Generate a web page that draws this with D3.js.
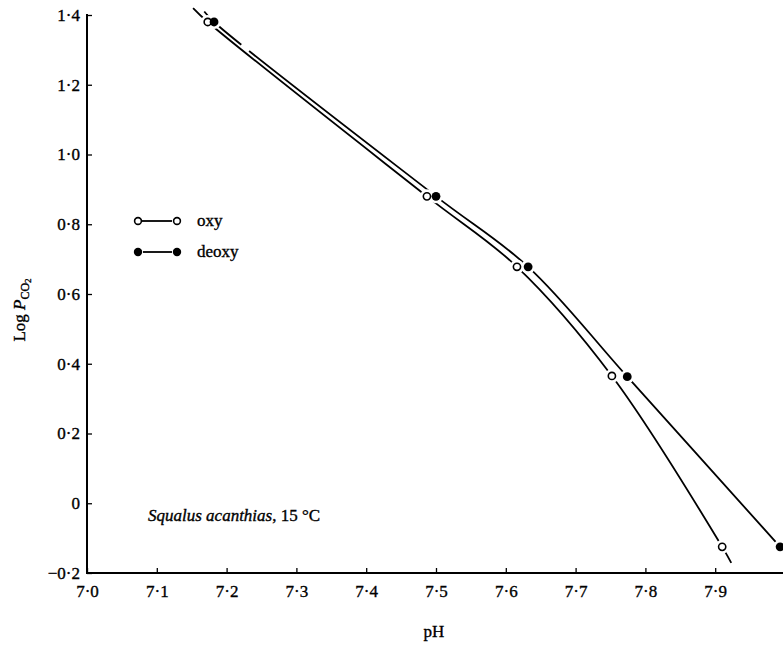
<!DOCTYPE html>
<html>
<head>
<meta charset="utf-8">
<script src="https://cdn.jsdelivr.net/npm/d3@7/dist/d3.min.js"></script>
<style>
  html, body { margin: 0; padding: 0; background: #fff; }
  svg { display: block; font-family: "Liberation Serif", "DejaVu Serif", serif; }
  text { fill: #000; stroke: #000; stroke-width: 0.35px; }
</style>
</head>
<body>
<svg id="chart" width="783" height="645"></svg>
<script>
// ---- data ----
const pHOxy     = [7.173, 7.487, 7.616, 7.752, 7.910];
const logPOxy   = [1.380, 0.880, 0.678, 0.365, -0.125];
const pHDeoxy   = [7.182, 7.500, 7.632, 7.774, 7.993];
const logPDeoxy = [1.380, 0.880, 0.678, 0.363, -0.125];
// drawn curve ends beyond the measured points
const oxyCurveStart   = [7.152, 1.420];
const oxyCurveEnd     = [7.923, -0.171];
const deoxyCurveStart = [7.168, 1.410];

const xTicks = [7.0, 7.1, 7.2, 7.3, 7.4, 7.5, 7.6, 7.7, 7.8, 7.9];
const xTickLabels = ["7·0","7·1","7·2","7·3","7·4","7·5","7·6","7·7","7·8","7·9"];
const yTicks = [1.4, 1.2, 1.0, 0.8, 0.6, 0.4, 0.2, 0, -0.2];
const yTickLabels = ["1·4","1·2","1·0","0·8","0·6","0·4","0·2","0","−0·2"];

const svg = d3.select("#chart");
const x = d3.scaleLinear().domain([7.0, 8.0]).range([87, 785]);
const y = d3.scaleLinear().domain([-0.2, 1.4]).range([573, 15]);

// axes
const xAxis = d3.axisBottom(x).tickValues(xTicks).tickSize(-5).tickPadding(10)
  .tickFormat((d, i) => xTickLabels[i]);
const yAxis = d3.axisLeft(y).tickValues(yTicks).tickSize(-5).tickPadding(7)
  .tickFormat((d, i) => yTickLabels[i]);

const gx = svg.append("g").attr("transform", "translate(0,573)").call(xAxis);
gx.select(".domain").attr("d", "M87,0H783").attr("stroke-width", 2);
const gy = svg.append("g").attr("transform", "translate(87,0)").call(yAxis);
gy.select(".domain").attr("d", "M0,14V574").attr("stroke-width", 2);
[gx, gy].forEach(g => {
  g.selectAll(".tick line").attr("stroke", "#000").attr("stroke-width", 1.3);
  g.selectAll(".tick text").attr("font-size", 17).attr("fill", "#000")
    .attr("font-family", "Liberation Serif, serif");
});
gx.selectAll(".tick text").attr("dy", "0.85em");

// curves
const line = d3.line().x(d => x(d[0])).y(d => y(d[1])).curve(d3.curveCatmullRom.alpha(0.5));
const oxyPts = [oxyCurveStart, ...pHOxy.map((p, i) => [p, logPOxy[i]]), oxyCurveEnd];
const deoxyPts = [deoxyCurveStart, ...pHDeoxy.map((p, i) => [p, logPDeoxy[i]])];

svg.append("path").attr("d", line(oxyPts)).attr("fill", "none")
  .attr("stroke", "#000").attr("stroke-width", 1.8);
svg.append("path").attr("d", line(deoxyPts)).attr("fill", "none")
  .attr("stroke", "#000").attr("stroke-width", 1.8)
  .attr("stroke-dasharray", "50,10,3000");

// halos to break the lines near the markers
const allPts = [...pHOxy.map((p, i) => [p, logPOxy[i]]), ...pHDeoxy.map((p, i) => [p, logPDeoxy[i]])];
svg.append("g").selectAll("circle").data(allPts).join("circle")
  .attr("cx", d => x(d[0])).attr("cy", d => y(d[1])).attr("r", 7).attr("fill", "#fff");

// markers
svg.append("g").selectAll("circle").data(pHOxy.map((p, i) => [p, logPOxy[i]])).join("circle")
  .attr("cx", d => x(d[0])).attr("cy", d => y(d[1])).attr("r", 3.6)
  .attr("fill", "#fff").attr("stroke", "#000").attr("stroke-width", 1.6);
svg.append("g").selectAll("circle").data(pHDeoxy.map((p, i) => [p, logPDeoxy[i]])).join("circle")
  .attr("cx", d => x(d[0])).attr("cy", d => y(d[1])).attr("r", 4.4).attr("fill", "#000");

// legend
const leg = svg.append("g");
leg.append("line").attr("x1", 142).attr("x2", 172).attr("y1", 221).attr("y2", 221)
  .attr("stroke", "#000").attr("stroke-width", 1.8);
leg.append("circle").attr("cx", 138).attr("cy", 221).attr("r", 3.4).attr("fill", "#fff").attr("stroke", "#000").attr("stroke-width", 1.6);
leg.append("circle").attr("cx", 177).attr("cy", 221).attr("r", 3.4).attr("fill", "#fff").attr("stroke", "#000").attr("stroke-width", 1.6);
leg.append("text").attr("x", 197).attr("y", 226).attr("font-size", 17).text("oxy");
leg.append("line").attr("x1", 143).attr("x2", 172).attr("y1", 252).attr("y2", 252)
  .attr("stroke", "#000").attr("stroke-width", 1.8);
leg.append("circle").attr("cx", 138).attr("cy", 252).attr("r", 4.2).attr("fill", "#000");
leg.append("circle").attr("cx", 177).attr("cy", 252).attr("r", 4.2).attr("fill", "#000");
leg.append("text").attr("x", 197).attr("y", 257).attr("font-size", 17).text("deoxy");

// annotation
const ann = svg.append("text").attr("x", 148).attr("y", 521).attr("font-size", 17);
ann.append("tspan").attr("font-style", "italic").text("Squalus acanthias");
ann.append("tspan").text(", 15 °C");

// axis titles
svg.append("text").attr("x", 434).attr("y", 637).attr("text-anchor", "middle")
  .attr("font-size", 17).text("pH");
const yl = svg.append("text").attr("transform", "translate(25,310) rotate(-90)")
  .attr("text-anchor", "middle").attr("font-size", 17);
yl.append("tspan").text("Log ");
yl.append("tspan").attr("font-style", "italic").text("P");
yl.append("tspan").attr("font-size", 12).attr("dy", 4).text("CO");
yl.append("tspan").attr("font-size", 9).attr("dy", 2).text("2");
</script>
</body>
</html>
